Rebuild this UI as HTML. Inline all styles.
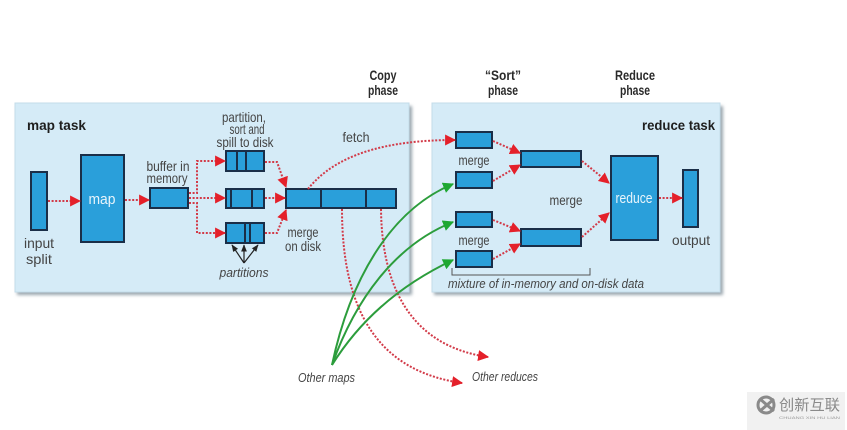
<!DOCTYPE html>
<html><head><meta charset="utf-8"><style>
html,body{margin:0;padding:0;background:#fff;}
svg{display:block;}
text{font-family:"Liberation Sans",sans-serif;}
.lb{fill:#444;font-size:14px;}
.it{fill:#444;font-size:13px;font-style:italic;}
.bd{fill:#1e1e1e;font-size:14px;font-weight:bold;}
.ph{fill:#2a2a2a;font-size:14px;font-weight:bold;}
.wt{fill:#e8f4fb;font-size:15px;}
.box{fill:#2a9fda;stroke:#1a2e48;stroke-width:2;}
.rd{fill:none;stroke:#d23a48;stroke-width:2;stroke-dasharray:2 1.6;}
.gr{fill:none;stroke:#2c9d3c;stroke-width:2;}
</style></head><body>
<svg width="847" height="430" viewBox="0 0 847 430" xmlns="http://www.w3.org/2000/svg">
<defs>
<filter id="sh" x="-5%" y="-5%" width="110%" height="115%"><feGaussianBlur stdDeviation="1.5"/></filter>
<marker id="ar" viewBox="0 0 10 10" refX="9" refY="5" markerWidth="5.5" markerHeight="5.5" orient="auto" markerUnits="strokeWidth">
<path d="M0,0 L10,5 L0,10 z" fill="#e4202a"/></marker>
<marker id="ag" viewBox="0 0 10 10" refX="9" refY="5" markerWidth="5.5" markerHeight="5.5" orient="auto" markerUnits="strokeWidth">
<path d="M0,0 L10,5 L0,10 z" fill="#1fa832"/></marker>
<marker id="ak" viewBox="0 0 10 10" refX="9" refY="5" markerWidth="6" markerHeight="6" orient="auto" markerUnits="strokeWidth">
<path d="M0,1 L10,5 L0,9 z" fill="#222"/></marker>
</defs>
<rect width="847" height="430" fill="#fff"/>

<!-- panels -->
<rect x="17" y="106" width="395" height="189" fill="#9aa6ae" filter="url(#sh)"/>
<rect x="15" y="103" width="394" height="189" fill="#d5ebf7" stroke="#c4dcea" stroke-width="1"/>
<rect x="434" y="106" width="289" height="189" fill="#9aa6ae" filter="url(#sh)"/>
<rect x="432" y="103" width="288" height="189" fill="#d5ebf7" stroke="#c4dcea" stroke-width="1"/>

<!-- phase headings -->
<text class="ph" x="383" y="80" text-anchor="middle" textLength="27" lengthAdjust="spacingAndGlyphs">Copy</text>
<text class="ph" x="383" y="95" text-anchor="middle" textLength="30" lengthAdjust="spacingAndGlyphs">phase</text>
<text class="ph" x="503" y="80" text-anchor="middle" textLength="36" lengthAdjust="spacingAndGlyphs">“Sort”</text>
<text class="ph" x="503" y="95" text-anchor="middle" textLength="30" lengthAdjust="spacingAndGlyphs">phase</text>
<text class="ph" x="635" y="80" text-anchor="middle" textLength="40" lengthAdjust="spacingAndGlyphs">Reduce</text>
<text class="ph" x="635" y="95" text-anchor="middle" textLength="30" lengthAdjust="spacingAndGlyphs">phase</text>

<text class="bd" x="27" y="130" textLength="59" lengthAdjust="spacingAndGlyphs">map task</text>
<text class="bd" x="715" y="130" text-anchor="end" textLength="73" lengthAdjust="spacingAndGlyphs">reduce task</text>

<!-- map side boxes -->
<rect class="box" x="31" y="172" width="16" height="58"/>
<rect class="box" x="81" y="155" width="43" height="87"/>
<rect class="box" x="150" y="188" width="38" height="20"/>
<rect class="box" x="226" y="151" width="38" height="20"/>
<line x1="237" y1="151" x2="237" y2="171" stroke="#1a2e48" stroke-width="2"/>
<line x1="246" y1="151" x2="246" y2="171" stroke="#1a2e48" stroke-width="2"/>
<rect class="box" x="226" y="189" width="38" height="19"/>
<line x1="231" y1="189" x2="231" y2="208" stroke="#1a2e48" stroke-width="2"/>
<line x1="252" y1="189" x2="252" y2="208" stroke="#1a2e48" stroke-width="2"/>
<rect class="box" x="226" y="223" width="38" height="20"/>
<line x1="245" y1="223" x2="245" y2="243" stroke="#1a2e48" stroke-width="2"/>
<line x1="250" y1="223" x2="250" y2="243" stroke="#1a2e48" stroke-width="2"/>
<rect class="box" x="286" y="189" width="110" height="19"/>
<line x1="321" y1="189" x2="321" y2="208" stroke="#1a2e48" stroke-width="2"/>
<line x1="366" y1="189" x2="366" y2="208" stroke="#1a2e48" stroke-width="2"/>

<!-- map side labels -->
<text class="lb" x="39" y="248" text-anchor="middle" font-size="17" textLength="30" lengthAdjust="spacingAndGlyphs">input</text>
<text class="lb" x="39" y="264" text-anchor="middle" font-size="17" textLength="26" lengthAdjust="spacingAndGlyphs">split</text>
<text class="wt" x="102" y="204" text-anchor="middle" textLength="27" lengthAdjust="spacingAndGlyphs">map</text>
<text class="lb" x="168" y="171" text-anchor="middle" textLength="43" lengthAdjust="spacingAndGlyphs">buffer in</text>
<text class="lb" x="167" y="183" text-anchor="middle" textLength="41" lengthAdjust="spacingAndGlyphs">memory</text>
<text class="lb" x="244" y="122" text-anchor="middle" textLength="44" lengthAdjust="spacingAndGlyphs">partition,</text>
<text class="lb" x="247" y="134" text-anchor="middle" textLength="35" lengthAdjust="spacingAndGlyphs">sort and</text>
<text class="lb" x="245" y="147" text-anchor="middle" textLength="57" lengthAdjust="spacingAndGlyphs">spill to disk</text>
<text class="lb" x="356" y="142" text-anchor="middle" textLength="27" lengthAdjust="spacingAndGlyphs">fetch</text>
<text class="lb" x="303" y="237" text-anchor="middle" textLength="31" lengthAdjust="spacingAndGlyphs">merge</text>
<text class="lb" x="303" y="251" text-anchor="middle" textLength="36" lengthAdjust="spacingAndGlyphs">on disk</text>
<text class="it" x="244" y="277" text-anchor="middle" textLength="49" lengthAdjust="spacingAndGlyphs">partitions</text>

<!-- partition pointer arrows -->
<line x1="244" y1="263" x2="232" y2="245" stroke="#222" stroke-width="1.2" marker-end="url(#ak)"/>
<line x1="244" y1="263" x2="244" y2="245" stroke="#222" stroke-width="1.2" marker-end="url(#ak)"/>
<line x1="244" y1="263" x2="258" y2="245" stroke="#222" stroke-width="1.2" marker-end="url(#ak)"/>

<!-- reduce side boxes -->
<rect class="box" x="456" y="132" width="36" height="16"/>
<rect class="box" x="456" y="172" width="36" height="16"/>
<rect class="box" x="456" y="212" width="36" height="15"/>
<rect class="box" x="456" y="251" width="36" height="16"/>
<rect class="box" x="521" y="151" width="60" height="16"/>
<rect class="box" x="521" y="229" width="60" height="17"/>
<rect class="box" x="611" y="156" width="47" height="84"/>
<rect class="box" x="683" y="170" width="15" height="57"/>

<text class="lb" x="474" y="165" text-anchor="middle" textLength="31" lengthAdjust="spacingAndGlyphs">merge</text>
<text class="lb" x="474" y="245" text-anchor="middle" textLength="31" lengthAdjust="spacingAndGlyphs">merge</text>
<text class="lb" x="566" y="205" text-anchor="middle" textLength="33" lengthAdjust="spacingAndGlyphs">merge</text>
<text class="wt" x="634" y="203" text-anchor="middle" textLength="37" lengthAdjust="spacingAndGlyphs">reduce</text>
<text class="lb" x="691" y="245" text-anchor="middle" font-size="16" textLength="38" lengthAdjust="spacingAndGlyphs">output</text>
<path d="M452,268 V275 H590 V268" fill="none" stroke="#555" stroke-width="1"/>
<text class="it" x="448" y="288" textLength="196" lengthAdjust="spacingAndGlyphs">mixture of in-memory and on-disk data</text>

<!-- red dotted connectors -->
<path class="rd" d="M48,201 H80" marker-end="url(#ar)"/>
<path class="rd" d="M125,200 H149" marker-end="url(#ar)"/>
<path class="rd" d="M189,193 H197 V161 H225" marker-end="url(#ar)"/>
<path class="rd" d="M189,198 H225" marker-end="url(#ar)"/>
<path class="rd" d="M189,203 H197 V233 H225" marker-end="url(#ar)"/>
<path class="rd" d="M265,162 H277 L286,187" marker-end="url(#ar)"/>
<path class="rd" d="M265,198 H285" marker-end="url(#ar)"/>
<path class="rd" d="M265,233 H277 L286,210" marker-end="url(#ar)"/>
<path class="rd" d="M308,189 C335,155 385,140 455,140" marker-end="url(#ar)"/>
<path class="rd" d="M493,141 L520,153" marker-end="url(#ar)"/>
<path class="rd" d="M493,181 L520,165" marker-end="url(#ar)"/>
<path class="rd" d="M493,220 L520,231" marker-end="url(#ar)"/>
<path class="rd" d="M493,259 L520,244" marker-end="url(#ar)"/>
<path class="rd" d="M582,161 L609,183" marker-end="url(#ar)"/>
<path class="rd" d="M582,237 L609,213" marker-end="url(#ar)"/>
<path class="rd" d="M659,198 H682" marker-end="url(#ar)"/>
<path class="rd" d="M342,209 C342,320 385,372 462,383" marker-end="url(#ar)"/>
<path class="rd" d="M381,209 C382,305 425,348 488,357" marker-end="url(#ar)"/>

<!-- green -->
<path class="gr" d="M332,365 C350,280 390,210 453,184" marker-end="url(#ag)"/>
<path class="gr" d="M332,365 C355,300 395,245 453,222" marker-end="url(#ag)"/>
<path class="gr" d="M332,365 C360,320 400,285 453,260" marker-end="url(#ag)"/>

<text class="it" x="298" y="382" textLength="57" lengthAdjust="spacingAndGlyphs">Other maps</text>
<text class="it" x="472" y="381" textLength="66" lengthAdjust="spacingAndGlyphs">Other reduces</text>

<!-- watermark -->
<rect x="747" y="392" width="98" height="38" fill="#f1f1f1"/>
<circle cx="766" cy="405" r="8" fill="none" stroke="#8a8a8a" stroke-width="3"/>
<path d="M760,399 L774,411 M774,399 L760,411" stroke="#8a8a8a" stroke-width="3"/>
<text x="779" y="410" font-family="'Liberation Sans','Noto Sans CJK SC',sans-serif" font-size="15" fill="#8a8a8a" textLength="61" lengthAdjust="spacingAndGlyphs">创新互联</text>
<text x="779" y="419" font-size="4" fill="#999" textLength="61" lengthAdjust="spacingAndGlyphs">CHUANG XIN HU LIAN</text>
</svg>
</body></html>
